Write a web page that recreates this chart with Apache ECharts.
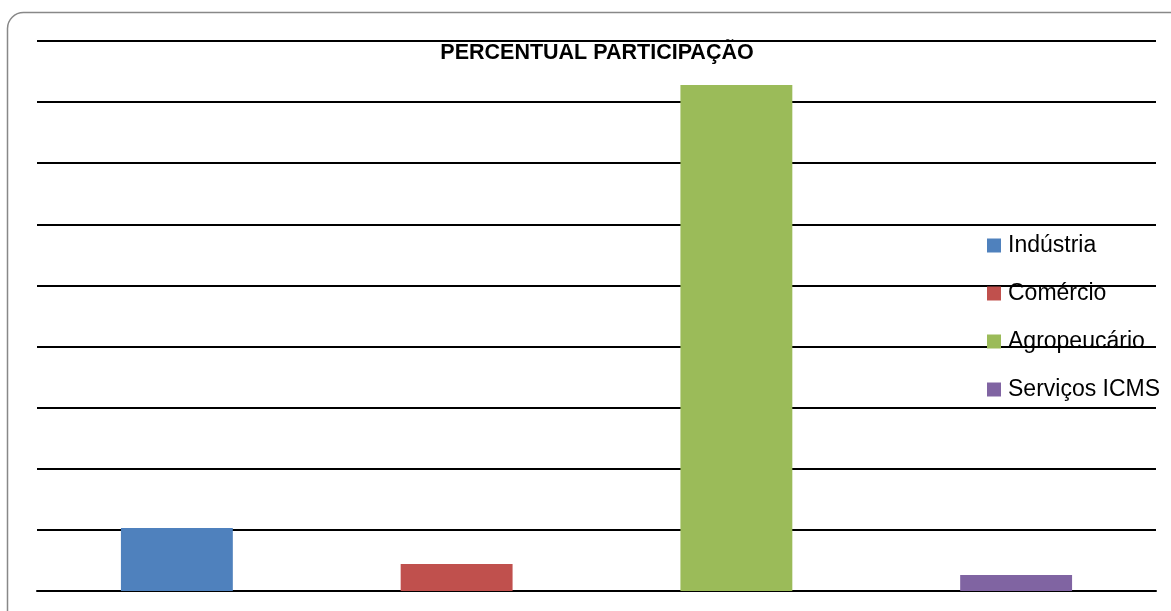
<!DOCTYPE html>
<html><head><meta charset="utf-8">
<script src="https://cdn.jsdelivr.net/npm/echarts@6/dist/echarts.min.js"></script>
<style>html,body{margin:0;padding:0;background:#fff}#c{width:1171px;height:611px}</style>
</head><body><div id="c"></div>
<script>
const categories = ['Indústria', 'Comércio', 'Agropeucário', 'Serviços ICMS'];
const values = [10.3, 4.4, 82.8, 2.6];
const colors = ['#4F81BD', '#C0504D', '#9BBB59', '#8064A2'];
const chart = echarts.init(document.getElementById('c'));
const series = categories.map((name, i) => ({
  name: name, type: 'bar', stack: 's', barWidth: '40%',
  itemStyle: { color: colors[i] },
  data: categories.map((c, j) => j === i ? values[i] : '-')
}));
chart.setOption({
  animation: false,
  title: { text: 'PERCENTUAL PARTICIPAÇÃO', left: 597, textAlign: 'center', top: 42, padding: 0,
    textStyle: { fontFamily: 'Liberation Sans', fontWeight: 'bold', fontSize: 21.5, color: '#000' } },
  legend: { orient: 'vertical', left: 987, top: 234, padding: 0, itemWidth: 14, itemHeight: 14, itemGap: 25,
    icon: 'rect',
    textStyle: { fontFamily: 'Liberation Sans', fontSize: 23, lineHeight: 23, color: '#000', padding: [0,0,0,2] },
    data: categories },
  grid: { left: 37, right: 15, top: 41, bottom: 20, containLabel: false },
  xAxis: { type: 'category', data: categories, axisLine: { show: true, lineStyle: { color: '#000', width: 2 } },
    axisTick: { show: false }, axisLabel: { show: false } },
  yAxis: { type: 'value', min: 0, max: 90, interval: 10, axisLabel: { show: false },
    axisLine: { show: false }, axisTick: { show: false },
    splitLine: { lineStyle: { color: '#000', width: 2 } } },
  graphic: [{ type: 'rect', shape: { x: 7.5, y: 12.5, width: 1200, height: 640, r: 16 }, z: -1,
    style: { fill: 'none', stroke: '#888', lineWidth: 1.5 } }],
  series: series
});
</script></body></html>
